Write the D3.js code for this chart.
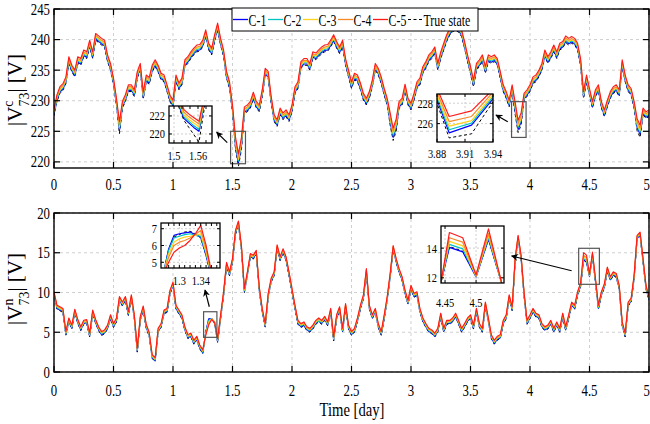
<!DOCTYPE html>
<html><head><meta charset="utf-8">
<script src="https://cdn.jsdelivr.net/npm/d3@7"></script>
<style>body{margin:0;background:#fff}svg{display:block}</style>
</head><body>
<svg id="chart" width="650" height="424"></svg>
<script>
// ---------------- DATA ----------------
const STEP = 0.025;                       // sample spacing [day]
const days = d3.range(201).map(i => +(i * STEP).toFixed(3));
const xTickVals = [0, 0.5, 1, 1.5, 2, 2.5, 3, 3.5, 4, 4.5, 5];
const xTickLabels = ["0","0.5","1","1.5","2","2.5","3","3.5","4","4.5","5"];
const topYTicks = [220, 225, 230, 235, 240, 245];
const botYTicks = [0, 5, 10, 15, 20];
const seriesNames = ["C-1", "C-2", "C-3", "C-4", "C-5", "True state"];

// |V^c_73| (top panel)
const topC5 = [228.6,231.0,232.3,232.8,233.9,237.2,235.8,235.0,237.2,236.9,238.3,238.0,239.9,238.0,241.0,240.6,240.2,239.9,237.5,236.1,233.7,230.4,226.6,229.9,231.0,232.6,232.6,231.8,234.8,236.1,231.4,234.2,233.8,235.8,236.7,235.8,234.5,234.2,232.6,230.9,230.1,234.2,232.9,233.7,236.7,237.2,238.0,238.6,239.1,239.2,239.9,241.6,239.4,238.6,240.8,242.7,240.2,238.3,234.8,233.1,229.3,224.1,221.3,224.0,229.0,229.3,229.9,231.4,229.9,229.3,231.8,235.3,234.8,230.7,227.7,226.9,228.8,228.0,228.5,227.7,229.3,232.3,233.1,236.4,236.9,236.9,236.1,238.0,237.8,238.3,238.8,239.1,239.2,239.9,240.8,239.7,238.8,239.9,236.9,235.0,233.1,234.5,234.2,232.9,231.2,230.4,231.5,233.4,236.1,235.3,233.9,232.0,230.4,228.0,225.5,227.0,229.9,230.4,232.7,230.4,229.6,231.2,233.1,233.7,235.6,236.4,237.5,238.0,238.8,236.1,238.0,239.4,240.8,241.8,242.4,242.6,242.3,241.6,239.7,237.5,235.6,233.4,236.1,236.7,237.5,235.6,237.5,237.2,237.5,236.9,234.8,232.6,231.5,230.1,232.6,229.8,226.8,228.0,231.2,231.8,232.6,233.9,234.2,235.0,236.1,238.3,237.2,238.0,239.1,238.0,239.4,239.7,240.6,240.2,240.5,240.2,239.4,236.9,231.5,234.2,232.0,229.9,231.8,232.6,229.9,228.5,230.1,231.5,232.3,232.6,231.8,236.7,234.2,232.6,232.0,229.9,227.1,226.0,228.8,228.2,228.5];
const topC4 = [228.3,230.7,232.0,232.5,233.6,236.9,235.5,234.7,236.9,236.6,238.0,237.7,239.6,237.7,240.7,240.3,239.9,239.6,237.2,235.8,233.4,230.1,226.1,229.6,230.7,232.3,232.3,231.5,234.5,235.8,231.1,233.9,233.5,235.5,236.4,235.5,234.2,233.9,232.3,230.6,229.8,233.9,232.6,233.4,236.4,236.9,237.7,238.3,238.8,238.9,239.6,241.3,239.1,238.3,240.5,242.4,239.9,238.0,234.5,232.8,229.0,223.6,220.8,223.5,228.7,229.0,229.6,231.1,229.6,229.0,231.5,235.0,234.5,230.4,227.4,226.6,228.5,227.7,228.2,227.4,229.0,232.0,232.8,236.1,236.6,236.6,235.8,237.7,237.5,238.0,238.5,238.8,238.9,239.6,240.5,239.4,238.5,239.6,236.6,234.7,232.8,234.2,233.9,232.6,230.9,230.1,231.2,233.1,235.8,235.0,233.6,231.7,230.1,227.5,225.0,226.5,229.6,230.1,232.4,230.1,229.3,230.9,232.8,233.4,235.3,236.1,237.2,237.7,238.5,235.8,237.7,239.1,240.5,241.5,242.1,242.3,242.0,241.3,239.4,237.2,235.3,233.1,235.8,236.4,237.2,235.3,237.2,236.9,237.2,236.6,234.5,232.3,231.2,229.8,232.3,229.3,226.3,227.5,230.9,231.5,232.3,233.6,233.9,234.7,235.8,238.0,236.9,237.7,238.8,237.7,239.1,239.4,240.3,239.9,240.2,239.9,239.1,236.6,231.2,233.9,231.7,229.6,231.5,232.3,229.6,228.2,229.8,231.2,232.0,232.3,231.5,236.4,233.9,232.3,231.7,229.6,226.6,225.5,228.5,227.9,228.2];
const topC3 = [228.1,230.5,231.8,232.3,233.4,236.7,235.3,234.5,236.7,236.4,237.8,237.5,239.4,237.5,240.5,240.1,239.7,239.4,237.0,235.6,233.2,229.9,225.7,229.4,230.5,232.1,232.1,231.3,234.3,235.6,230.9,233.7,233.3,235.3,236.2,235.3,234.0,233.7,232.1,230.4,229.6,233.7,232.4,233.2,236.2,236.7,237.5,238.1,238.6,238.7,239.4,241.1,238.9,238.1,240.3,242.2,239.7,237.8,234.3,232.6,228.8,223.2,220.4,223.1,228.5,228.8,229.4,230.9,229.4,228.8,231.3,234.8,234.3,230.2,227.2,226.4,228.3,227.5,228.0,227.2,228.8,231.8,232.6,235.9,236.4,236.4,235.6,237.5,237.3,237.8,238.3,238.6,238.7,239.4,240.3,239.2,238.3,239.4,236.4,234.5,232.6,234.0,233.7,232.4,230.7,229.9,231.0,232.9,235.6,234.8,233.4,231.5,229.9,227.1,224.6,226.1,229.4,229.9,232.2,229.9,229.1,230.7,232.6,233.2,235.1,235.9,237.0,237.5,238.3,235.6,237.5,238.9,240.3,241.3,241.9,242.1,241.8,241.1,239.2,237.0,235.1,232.9,235.6,236.2,237.0,235.1,237.0,236.7,237.0,236.4,234.3,232.1,231.0,229.6,232.1,228.9,225.9,227.1,230.7,231.3,232.1,233.4,233.7,234.5,235.6,237.8,236.7,237.5,238.6,237.5,238.9,239.2,240.1,239.7,240.0,239.7,238.9,236.4,231.0,233.7,231.5,229.4,231.3,232.1,229.4,228.0,229.6,231.0,231.8,232.1,231.3,236.2,233.7,232.1,231.5,229.4,226.2,225.1,228.3,227.7,228.0];
const topC2 = [227.9,230.3,231.6,232.1,233.2,236.5,235.1,234.3,236.5,236.2,237.6,237.3,239.2,237.3,240.3,239.9,239.5,239.2,236.8,235.4,233.0,229.7,225.4,229.2,230.3,231.9,231.9,231.1,234.1,235.4,230.7,233.5,233.1,235.1,236.0,235.1,233.8,233.5,231.9,230.2,229.4,233.5,232.2,233.0,236.0,236.5,237.3,237.9,238.4,238.5,239.2,240.9,238.7,237.9,240.1,242.0,239.5,237.6,234.1,232.4,228.6,222.9,220.1,222.8,228.3,228.6,229.2,230.7,229.2,228.6,231.1,234.6,234.1,230.0,227.0,226.2,228.1,227.3,227.8,227.0,228.6,231.6,232.4,235.7,236.2,236.2,235.4,237.3,237.1,237.6,238.1,238.4,238.5,239.2,240.1,239.0,238.1,239.2,236.2,234.3,232.4,233.8,233.5,232.2,230.5,229.7,230.8,232.7,235.4,234.6,233.2,231.3,229.7,226.8,224.3,225.8,229.2,229.7,232.0,229.7,228.9,230.5,232.4,233.0,234.9,235.7,236.8,237.3,238.1,235.4,237.3,238.7,240.1,241.1,241.7,241.9,241.6,240.9,239.0,236.8,234.9,232.7,235.4,236.0,236.8,234.9,236.8,236.5,236.8,236.2,234.1,231.9,230.8,229.4,231.9,228.6,225.6,226.8,230.5,231.1,231.9,233.2,233.5,234.3,235.4,237.6,236.5,237.3,238.4,237.3,238.7,239.0,239.9,239.5,239.8,239.5,238.7,236.2,230.8,233.5,231.3,229.2,231.1,231.9,229.2,227.8,229.4,230.8,231.6,231.9,231.1,236.0,233.5,231.9,231.3,229.2,225.9,224.8,228.1,227.5,227.8];
const topC1 = [227.7,230.1,231.4,231.9,233.0,236.3,234.9,234.1,236.3,236.0,237.4,237.1,239.0,237.1,240.1,239.7,239.3,239.0,236.6,235.2,232.8,229.5,225.1,229.0,230.1,231.7,231.7,230.9,233.9,235.2,230.5,233.3,232.9,234.9,235.8,234.9,233.6,233.3,231.7,230.0,229.2,233.3,232.0,232.8,235.8,236.3,237.1,237.7,238.2,238.3,239.0,240.7,238.5,237.7,239.9,241.8,239.3,237.4,233.9,232.2,228.4,222.6,219.8,222.5,228.1,228.4,229.0,230.5,229.0,228.4,230.9,234.4,233.9,229.8,226.8,226.0,227.9,227.1,227.6,226.8,228.4,231.4,232.2,235.5,236.0,236.0,235.2,237.1,236.9,237.4,237.9,238.2,238.3,239.0,239.9,238.8,237.9,239.0,236.0,234.1,232.2,233.6,233.3,232.0,230.3,229.5,230.6,232.5,235.2,234.4,233.0,231.1,229.5,226.5,224.0,225.5,229.0,229.5,231.8,229.5,228.7,230.3,232.2,232.8,234.7,235.5,236.6,237.1,237.9,235.2,237.1,238.5,239.9,240.9,241.5,241.7,241.4,240.7,238.8,236.6,234.7,232.5,235.2,235.8,236.6,234.7,236.6,236.3,236.6,236.0,233.9,231.7,230.6,229.2,231.7,228.3,225.3,226.5,230.3,230.9,231.7,233.0,233.3,234.1,235.2,237.4,236.3,237.1,238.2,237.1,238.5,238.8,239.7,239.3,239.6,239.3,238.5,236.0,230.6,233.3,231.1,229.0,230.9,231.7,229.0,227.6,229.2,230.6,231.4,231.7,230.9,235.8,233.3,231.7,231.1,229.0,225.6,224.5,227.9,227.3,227.6];
const topTrue = [227.5,229.9,231.2,231.7,232.8,236.1,234.7,233.9,236.1,235.8,237.2,236.9,238.8,236.9,239.9,239.5,239.1,238.8,236.4,235.0,232.6,229.3,224.6,228.8,229.9,231.5,231.5,230.7,233.7,235.0,230.3,233.1,232.7,234.7,235.6,234.7,233.4,233.1,231.5,229.8,229.0,233.1,231.8,232.6,235.6,236.1,236.9,237.5,238.0,238.1,238.8,240.5,238.3,237.5,239.7,241.6,239.1,237.2,233.7,232.0,228.2,222.1,219.3,222.0,227.9,228.2,228.8,230.3,228.8,228.2,230.7,234.2,233.7,229.6,226.6,225.8,227.7,226.9,227.4,226.6,228.2,231.2,232.0,235.3,235.8,235.8,235.0,236.9,236.7,237.2,237.7,238.0,238.1,238.8,239.7,238.6,237.7,238.8,235.8,233.9,232.0,233.4,233.1,231.8,230.1,229.3,230.4,232.3,235.0,234.2,232.8,230.9,229.3,226.0,223.5,225.0,228.8,229.3,231.6,229.3,228.5,230.1,232.0,232.6,234.5,235.3,236.4,236.9,237.7,235.0,236.9,238.3,239.7,240.7,241.3,241.5,241.2,240.5,238.6,236.4,234.5,232.3,235.0,235.6,236.4,234.5,236.4,236.1,236.4,235.8,233.7,231.5,230.4,229.0,231.5,227.8,224.8,226.0,230.1,230.7,231.5,232.8,233.1,233.9,235.0,237.2,236.1,236.9,238.0,236.9,238.3,238.6,239.5,239.1,239.4,239.1,238.3,235.8,230.4,233.1,230.9,228.8,230.7,231.5,228.8,227.4,229.0,230.4,231.2,231.5,230.7,235.6,233.1,231.5,230.9,228.8,225.1,224.0,227.7,227.1,227.4];

// |V^n_73| (bottom panel)
const botC5 = [10.1,8.4,8.2,8.0,5.1,6.8,5.9,7.9,6.6,5.7,6.5,6.6,4.9,7.8,6.6,5.7,5.1,5.3,5.9,7.2,6.1,6.8,9.5,8.8,9.5,7.6,9.7,7.2,3.0,7.0,8.3,6.0,5.0,2.2,1.8,5.5,6.1,7.8,8.0,10.3,11.3,8.4,7.8,7.2,5.7,4.7,4.9,4.0,4.5,3.4,2.8,4.6,5.9,6.6,6.2,4.2,7.2,10.1,13.8,12.6,14.3,17.8,19.0,15.9,10.5,12.6,14.9,14.7,15.3,10.7,8.0,6.1,9.9,11.8,12.6,16.0,14.5,15.5,14.5,12.6,10.5,8.4,6.5,6.1,6.3,5.7,5.5,5.9,6.5,6.8,6.5,7.0,6.3,8.0,4.4,7.2,8.2,5.5,8.6,5.9,5.1,5.5,6.8,8.4,9.7,13.0,8.4,7.2,8.0,6.1,5.1,7.2,9.5,12.4,15.9,14.3,13.0,12.0,10.3,9.0,10.9,9.9,10.1,8.0,6.8,6.1,5.5,5.3,4.9,5.5,7.4,5.5,6.5,6.5,6.8,7.4,6.5,5.5,6.1,6.8,7.2,5.9,8.0,6.1,5.5,8.8,6.8,4.7,4.0,4.5,4.7,6.5,7.2,9.7,8.2,14.3,17.2,14.7,10.1,6.5,7.2,8.0,7.4,7.2,6.1,5.7,5.9,6.5,5.5,6.3,5.5,7.4,5.7,7.2,8.8,8.4,10.1,11.2,15.0,14.7,12.3,15.1,11.8,8.4,10.1,11.1,13.2,12.0,12.6,12.4,10.9,6.3,4.9,8.8,9.3,12.2,17.2,17.6,14.3,10.9,9.5];
const botC4 = [10.0,8.3,8.1,7.9,5.0,6.7,5.8,7.8,6.5,5.6,6.4,6.5,4.8,7.7,6.5,5.6,5.0,5.2,5.8,7.1,6.0,6.7,9.4,8.7,9.4,7.5,9.6,7.1,2.9,6.9,8.2,5.9,4.9,2.1,1.7,5.4,6.0,7.7,7.9,10.2,11.2,8.3,7.7,7.1,5.6,4.6,4.8,3.9,4.4,3.3,2.7,4.7,6.1,6.7,6.3,4.1,7.1,10.0,13.7,12.5,14.2,17.7,18.9,15.8,10.4,12.5,14.8,14.6,15.2,10.6,7.9,6.0,9.8,11.7,12.5,15.9,14.4,15.4,14.4,12.5,10.4,8.3,6.4,6.0,6.2,5.6,5.4,5.8,6.4,6.7,6.4,6.9,6.2,7.9,4.3,7.1,8.1,5.4,8.5,5.8,5.0,5.4,6.7,8.3,9.6,12.9,8.3,7.1,7.9,6.0,5.0,7.1,9.4,12.3,15.8,14.2,12.9,11.9,10.2,8.9,10.8,9.8,10.0,7.9,6.7,6.0,5.4,5.2,4.8,5.4,7.3,5.4,6.4,6.4,6.7,7.3,6.4,5.4,6.0,6.7,7.1,5.8,7.9,6.0,5.4,8.7,6.7,4.6,3.9,4.4,4.6,6.4,7.1,9.6,8.1,14.2,17.1,14.6,10.0,6.4,7.1,7.9,7.3,7.1,6.0,5.6,5.8,6.4,5.4,6.2,5.4,7.3,5.6,7.1,8.7,8.3,10.0,11.1,14.7,14.4,12.2,14.9,11.7,8.3,10.0,11.0,13.1,11.9,12.5,12.3,10.8,6.2,4.8,8.7,9.2,12.1,17.1,17.5,14.2,10.8,9.4];
const botC3 = [9.9,8.2,8.0,7.8,4.9,6.6,5.7,7.7,6.4,5.5,6.3,6.4,4.7,7.6,6.4,5.5,4.9,5.1,5.7,7.0,5.9,6.6,9.3,8.6,9.3,7.4,9.5,7.0,2.8,6.8,8.1,5.8,4.8,2.0,1.6,5.3,5.9,7.6,7.8,10.1,11.1,8.2,7.6,7.0,5.5,4.5,4.7,3.8,4.3,3.2,2.6,4.8,6.3,6.7,6.3,4.0,7.0,9.9,13.6,12.4,14.1,17.6,18.8,15.7,10.3,12.4,14.7,14.5,15.1,10.5,7.8,5.9,9.7,11.6,12.4,15.8,14.3,15.3,14.3,12.4,10.3,8.2,6.3,5.9,6.1,5.5,5.3,5.7,6.3,6.6,6.3,6.8,6.1,7.8,4.2,7.0,8.0,5.3,8.4,5.7,4.9,5.3,6.6,8.2,9.5,12.8,8.2,7.0,7.8,5.9,4.9,7.0,9.3,12.2,15.7,14.1,12.8,11.8,10.1,8.8,10.7,9.7,9.9,7.8,6.6,5.9,5.3,5.1,4.7,5.3,7.2,5.3,6.3,6.3,6.6,7.2,6.3,5.3,5.9,6.6,7.0,5.7,7.8,5.9,5.3,8.6,6.6,4.5,3.8,4.3,4.5,6.3,7.0,9.5,8.0,14.1,17.0,14.5,9.9,6.3,7.0,7.8,7.2,7.0,5.9,5.5,5.7,6.3,5.3,6.1,5.3,7.2,5.5,7.0,8.6,8.2,9.9,11.0,14.5,14.2,12.1,14.8,11.6,8.2,9.9,10.9,13.0,11.8,12.4,12.2,10.7,6.1,4.7,8.6,9.1,12.0,17.0,17.4,14.1,10.7,9.3];
const botC2 = [9.8,8.1,7.9,7.7,4.8,6.5,5.6,7.6,6.3,5.4,6.2,6.3,4.6,7.5,6.3,5.4,4.8,5.0,5.6,6.9,5.8,6.5,9.2,8.5,9.2,7.3,9.4,6.9,2.7,6.7,8.0,5.7,4.7,1.9,1.5,5.2,5.8,7.5,7.7,10.0,11.0,8.1,7.5,6.9,5.4,4.4,4.6,3.7,4.2,3.1,2.5,4.9,6.5,6.7,6.2,3.9,6.9,9.8,13.5,12.3,14.0,17.5,18.7,15.6,10.2,12.3,14.6,14.4,15.0,10.4,7.7,5.8,9.6,11.5,12.3,15.7,14.2,15.2,14.2,12.3,10.2,8.1,6.2,5.8,6.0,5.4,5.2,5.6,6.2,6.5,6.2,6.7,6.0,7.7,4.1,6.9,7.9,5.2,8.3,5.6,4.8,5.2,6.5,8.1,9.4,12.7,8.1,6.9,7.7,5.8,4.8,6.9,9.2,12.1,15.6,14.0,12.7,11.7,10.0,8.7,10.6,9.6,9.8,7.7,6.5,5.8,5.2,5.0,4.6,5.2,7.1,5.2,6.2,6.2,6.5,7.1,6.2,5.2,5.8,6.5,6.9,5.6,7.7,5.8,5.2,8.5,6.5,4.4,3.7,4.2,4.4,6.2,6.9,9.4,7.9,14.0,16.9,14.4,9.8,6.2,6.9,7.7,7.1,6.9,5.8,5.4,5.6,6.2,5.2,6.0,5.2,7.1,5.4,6.9,8.5,8.1,9.8,10.9,14.3,14.0,12.1,14.7,11.5,8.1,9.8,10.8,12.9,11.7,12.3,12.1,10.6,6.0,4.6,8.5,9.0,11.9,16.9,17.3,14.0,10.6,9.2];
const botC1 = [9.7,8.0,7.8,7.6,4.7,6.4,5.5,7.5,6.2,5.3,6.1,6.2,4.5,7.4,6.2,5.3,4.7,4.9,5.5,6.8,5.7,6.4,9.1,8.4,9.1,7.2,9.3,6.8,2.6,6.6,7.9,5.6,4.6,1.8,1.4,5.1,5.7,7.4,7.6,9.9,10.9,8.0,7.4,6.8,5.3,4.3,4.5,3.6,4.1,3.0,2.4,5.0,6.7,6.7,6.1,3.8,6.8,9.7,13.4,12.2,13.9,17.4,18.6,15.5,10.1,12.2,14.5,14.3,14.9,10.3,7.6,5.7,9.5,11.4,12.2,15.6,14.1,15.1,14.1,12.2,10.1,8.0,6.1,5.7,5.9,5.3,5.1,5.5,6.1,6.4,6.1,6.6,5.9,7.6,4.0,6.8,7.8,5.1,8.2,5.5,4.7,5.1,6.4,8.0,9.3,12.6,8.0,6.8,7.6,5.7,4.7,6.8,9.1,12.0,15.5,13.9,12.6,11.6,9.9,8.6,10.5,9.5,9.7,7.6,6.4,5.7,5.1,4.9,4.5,5.1,7.0,5.1,6.1,6.1,6.4,7.0,6.1,5.1,5.7,6.4,6.8,5.5,7.6,5.7,5.1,8.4,6.4,4.3,3.6,4.1,4.3,6.1,6.8,9.3,7.8,13.9,16.8,14.3,9.7,6.1,6.8,7.6,7.0,6.8,5.7,5.3,5.5,6.1,5.1,5.9,5.1,7.0,5.3,6.8,8.4,8.0,9.7,10.8,14.1,13.8,12.0,14.6,11.4,8.0,9.7,10.7,12.8,11.6,12.2,12.0,10.5,5.9,4.5,8.4,8.9,11.8,16.8,17.2,13.9,10.5,9.1];
const botTrue = [9.6,7.9,7.7,7.5,4.6,6.3,5.4,7.4,6.1,5.2,6.0,6.1,4.4,7.3,6.1,5.2,4.6,4.8,5.4,6.7,5.6,6.3,9.0,8.3,9.0,7.1,9.2,6.7,2.5,6.5,7.8,5.5,4.5,1.7,1.3,5.0,5.6,7.3,7.5,9.8,10.8,7.9,7.3,6.7,5.2,4.2,4.4,3.5,4.0,2.9,2.3,5.0,6.6,6.8,6.1,3.7,6.7,9.6,13.3,12.1,13.8,17.3,18.5,15.4,10.0,12.1,14.4,14.2,14.8,10.2,7.5,5.6,9.4,11.3,12.1,15.5,14.0,15.0,14.0,12.1,10.0,7.9,6.0,5.6,5.8,5.2,5.0,5.4,6.0,6.3,6.0,6.5,5.8,7.5,3.9,6.7,7.7,5.0,8.1,5.4,4.6,5.0,6.3,7.9,9.2,12.5,7.9,6.7,7.5,5.6,4.6,6.7,9.0,11.9,15.4,13.8,12.5,11.5,9.8,8.5,10.4,9.4,9.6,7.5,6.3,5.6,5.0,4.8,4.4,5.0,6.9,5.0,6.0,6.0,6.3,6.9,6.0,5.0,5.6,6.3,6.7,5.4,7.5,5.6,5.0,8.3,6.3,4.2,3.5,4.0,4.2,6.0,6.7,9.2,7.7,13.8,16.7,14.2,9.6,6.0,6.7,7.5,6.9,6.7,5.6,5.2,5.4,6.0,5.0,5.8,5.0,6.9,5.2,6.7,8.3,7.9,9.6,10.7,14.1,13.8,12.1,14.6,11.3,7.9,9.6,10.6,12.7,11.5,12.1,11.9,10.4,5.8,4.4,8.3,8.8,11.7,16.7,17.1,13.8,10.4,9.0];

// Zoomed-in detail
const insTopA_t   = [1.5, 1.5125, 1.525, 1.5375, 1.55, 1.5625, 1.575, 1.5875];
const insTopA_C5  = [226.5, 224.0, 222.7, 222.2, 221.8, 221.4, 224.0, 227.0];
const insTopA_C4  = [226.3, 223.7, 222.4, 221.9, 221.5, 221.1, 223.8, 226.8];
const insTopA_C3  = [226.1, 223.5, 222.1, 221.6, 221.2, 220.8, 223.6, 226.6];
const insTopA_C2  = [225.9, 223.3, 221.9, 221.4, 220.9, 220.5, 223.4, 226.4];
const insTopA_C1  = [225.7, 223.1, 221.7, 221.2, 220.7, 220.3, 223.2, 226.2];
const insTopA_Tr  = [225.5, 222.9, 221.5, 220.7, 219.9, 219.1, 222.6, 226.0];

const insTopB_t   = [3.875, 3.893, 3.917, 3.945];
const insTopB_C5  = [230.5, 226.7, 227.25, 229.8];
const insTopB_C4  = [230.2, 226.2, 226.7, 229.6];
const insTopB_C3  = [230.0, 225.75, 226.3, 229.4];
const insTopB_C2  = [229.8, 225.4, 226.05, 229.2];
const insTopB_C1  = [229.6, 225.1, 225.85, 229.0];
const insTopB_Tr  = [229.3, 224.6, 225.0, 228.8];

const insBotA_t   = [1.27, 1.28, 1.29, 1.30, 1.31, 1.32, 1.33, 1.34, 1.35, 1.36];
const insBotA_C5  = [4.3, 5.0, 5.6, 5.85, 6.0, 6.3, 6.7, 7.2, 6.0, 4.4];
const insBotA_C4  = [4.3, 5.3, 6.0, 6.2, 6.3, 6.45, 6.65, 6.9, 5.8, 4.3];
const insBotA_C3  = [4.3, 5.5, 6.2, 6.4, 6.5, 6.55, 6.6, 6.7, 5.6, 4.2];
const insBotA_C2  = [4.3, 5.7, 6.45, 6.55, 6.65, 6.7, 6.6, 6.55, 5.5, 4.2];
const insBotA_C1  = [4.3, 5.8, 6.6, 6.7, 6.75, 6.8, 6.65, 6.5, 5.4, 4.1];
const insBotA_Tr  = [4.3, 5.75, 6.5, 6.65, 6.8, 6.85, 6.7, 6.45, 5.4, 4.1];

const insBotB_t   = [4.4435, 4.457, 4.4785, 4.5, 4.52, 4.5415];
const insBotB_C5  = [11.7, 15.05, 14.7, 12.2, 15.3, 11.6];
const insBotB_C4  = [11.7, 14.7, 14.4, 12.15, 15.0, 11.6];
const insBotB_C3  = [11.7, 14.45, 14.15, 12.1, 14.85, 11.6];
const insBotB_C2  = [11.7, 14.25, 13.95, 12.1, 14.7, 11.6];
const insBotB_C1  = [11.7, 14.05, 13.75, 12.05, 14.6, 11.6];
const insBotB_Tr  = [11.7, 14.1, 13.8, 12.1, 14.6, 11.6];

// ---------------- STYLE ----------------
const COLORS = ["#0000ff", "#00c4c4", "#ffd21a", "#f58a2a", "#ff1a1a", "#000000"];
const SERIF = "'Liberation Serif','Times New Roman',serif";
const L = 54, R = 649;

const svg = d3.select("#chart");
let clipId = 0;

function txt(g, x, y, s, size, sx, anchor) {
  return g.append("text")
    .attr("transform", `translate(${x},${y}) scale(${sx},1)`)
    .attr("text-anchor", anchor || "middle")
    .attr("font-family", SERIF).attr("font-size", size)
    .attr("fill", "#000").text(s);
}

function drawSeries(g, x, y, times, arrs, width) {
  // draw order: true state underneath, then C-1 ... C-5
  const order = [5, 0, 1, 2, 3, 4];
  const line = d3.line().x((d, i) => x(times[i])).y(d => y(d));
  order.forEach(k => {
    g.append("path").datum(arrs[k])
      .attr("d", line).attr("fill", "none")
      .attr("stroke", COLORS[k]).attr("stroke-width", k === 5 ? 1.0 : width)
      .attr("stroke-dasharray", k === 5 ? "3,2.5" : null)
      .attr("stroke-linejoin", "round");
  });
}

function panel(cfg) {
  const x = d3.scaleLinear().domain([0, 5]).range([L, R]);
  const y = d3.scaleLinear().domain(cfg.domain).range([cfg.bottom, cfg.top]);
  const g = svg.append("g");
  const id = "clip" + (clipId++);
  svg.append("clipPath").attr("id", id).append("rect")
    .attr("x", L).attr("y", cfg.top).attr("width", R - L).attr("height", cfg.bottom - cfg.top);
  // grid
  const grid = g.append("g").attr("stroke", "#cfcfcf").attr("stroke-width", 1).attr("stroke-dasharray", "3,3");
  xTickVals.forEach(v => grid.append("line").attr("x1", x(v)).attr("x2", x(v)).attr("y1", cfg.top).attr("y2", cfg.bottom));
  cfg.yTicks.forEach(v => grid.append("line").attr("x1", L).attr("x2", R).attr("y1", y(v)).attr("y2", y(v)));
  // series
  const sg = g.append("g").attr("clip-path", `url(#${id})`);
  drawSeries(sg, x, y, days, cfg.series, 1.1);
  // zoom rectangles
  cfg.zoomRects.forEach(r => g.append("rect").attr("x", x(r[0])).attr("y", y(r[3]))
    .attr("width", x(r[1]) - x(r[0])).attr("height", y(r[2]) - y(r[3]))
    .attr("fill", "none").attr("stroke", "#555").attr("stroke-width", 1.2));
  // frame
  g.append("rect").attr("x", L).attr("y", cfg.top).attr("width", R - L).attr("height", cfg.bottom - cfg.top)
    .attr("fill", "none").attr("stroke", "#000").attr("stroke-width", 1.4);
  // ticks (inward, all sides)
  const tk = g.append("g").attr("stroke", "#000").attr("stroke-width", 1.2);
  const TL = 6;
  xTickVals.forEach(v => {
    tk.append("line").attr("x1", x(v)).attr("x2", x(v)).attr("y1", cfg.bottom).attr("y2", cfg.bottom - TL);
    tk.append("line").attr("x1", x(v)).attr("x2", x(v)).attr("y1", cfg.top).attr("y2", cfg.top + TL);
  });
  cfg.yTicks.forEach(v => {
    tk.append("line").attr("x1", L).attr("x2", L + TL).attr("y1", y(v)).attr("y2", y(v));
    tk.append("line").attr("x1", R).attr("x2", R - TL).attr("y1", y(v)).attr("y2", y(v));
  });
  // tick labels (last one kept fully inside the page)
  xTickVals.forEach((v, i) => {
    const last = i === xTickVals.length - 1;
    txt(g, last ? 650 : x(v), cfg.xLabelY, xTickLabels[i], 16, 0.8, last ? "end" : "middle");
  });
  cfg.yTicks.forEach(v => txt(g, L - 4, y(v) + 5.5, String(v), 16, 0.8, "end"));
  // arrows
  cfg.arrows.forEach(a => {
    g.append("line").attr("x1", x(a[0])).attr("y1", y(a[1])).attr("x2", x(a[2])).attr("y2", y(a[3]))
      .attr("stroke", "#000").attr("stroke-width", 1.2).attr("marker-end", "url(#arrowHead)");
  });
  return { x, y };
}

// arrow marker
svg.append("defs").append("marker").attr("id", "arrowHead")
  .attr("viewBox", "0 0 10 10").attr("refX", 9).attr("refY", 5)
  .attr("markerWidth", 7).attr("markerHeight", 7).attr("orient", "auto")
  .attr("markerUnits", "userSpaceOnUse")
  .append("path").attr("d", "M0,0 L10,5 L0,10 L3,5 Z").attr("fill", "#000");

function inset(box, xDom, yDom, xTicks, xLabs, yTicks, times, arrs, xLabY) {
  const x = d3.scaleLinear().domain(xDom).range([box[0], box[2]]);
  const y = d3.scaleLinear().domain(yDom).range([box[3], box[1]]);
  const g = svg.append("g");
  const id = "clip" + (clipId++);
  svg.append("clipPath").attr("id", id).append("rect")
    .attr("x", box[0]).attr("y", box[1]).attr("width", box[2] - box[0]).attr("height", box[3] - box[1]);
  g.append("rect").attr("x", box[0]).attr("y", box[1]).attr("width", box[2] - box[0]).attr("height", box[3] - box[1])
    .attr("fill", "#fff");
  const grid = g.append("g").attr("stroke", "#cfcfcf").attr("stroke-dasharray", "2,2").attr("stroke-width", 1);
  xTicks.forEach((v, i) => { if (xLabs[i]) grid.append("line").attr("x1", x(v)).attr("x2", x(v)).attr("y1", box[1]).attr("y2", box[3]); });
  yTicks.forEach(v => grid.append("line").attr("x1", box[0]).attr("x2", box[2]).attr("y1", y(v)).attr("y2", y(v)));
  const sg = g.append("g").attr("clip-path", `url(#${id})`);
  drawSeries(sg, x, y, times, arrs, 1.2);
  g.append("rect").attr("x", box[0]).attr("y", box[1]).attr("width", box[2] - box[0]).attr("height", box[3] - box[1])
    .attr("fill", "none").attr("stroke", "#000").attr("stroke-width", 1.3);
  const tk = g.append("g").attr("stroke", "#000").attr("stroke-width", 1);
  xTicks.forEach(v => {
    tk.append("line").attr("x1", x(v)).attr("x2", x(v)).attr("y1", box[3]).attr("y2", box[3] - 3);
    tk.append("line").attr("x1", x(v)).attr("x2", x(v)).attr("y1", box[1]).attr("y2", box[1] + 3);
  });
  yTicks.forEach(v => {
    tk.append("line").attr("x1", box[0]).attr("x2", box[0] + 3).attr("y1", y(v)).attr("y2", y(v));
    tk.append("line").attr("x1", box[2]).attr("x2", box[2] - 3).attr("y1", y(v)).attr("y2", y(v));
  });
  xTicks.forEach((v, i) => { if (xLabs[i]) txt(g, x(v), xLabY, xLabs[i], 13, 0.8); });
  yTicks.forEach(v => txt(g, box[0] - 4, y(v) + 4.5, String(v), 13, 0.8, "end"));
}

// ---------------- PANELS ----------------
panel({
  top: 9, bottom: 168, domain: [219, 245], yTicks: topYTicks, xLabelY: 190,
  series: [topC1, topC2, topC3, topC4, topC5, topTrue],
  zoomRects: [[1.484, 1.609, 219.7, 225.0], [3.845, 3.967, 224.0, 229.85]],
  arrows: [[1.456, 223.14, 1.367, 224.84], [3.813, 226.57, 3.714, 227.67]]
});
panel({
  top: 213, bottom: 372, domain: [0, 20], yTicks: botYTicks, xLabelY: 396,
  series: [botC1, botC2, botC3, botC4, botC5, botTrue],
  zoomRects: [[1.257, 1.369, 4.36, 7.58], [4.409, 4.583, 11.03, 15.56]],
  arrows: [[1.305, 8.21, 1.269, 10.31], [4.35, 12.74, 3.846, 14.59]]
});

// ---------------- INSETS ----------------
inset([169, 106, 212, 143], [1.4875, 1.595], [219, 223.1],
  [1.5, 1.52, 1.54, 1.56, 1.58], ["1.5", "", "", "1.56", ""], [220, 222],
  insTopA_t, [insTopA_C1, insTopA_C2, insTopA_C3, insTopA_C4, insTopA_C5, insTopA_Tr], 160);
inset([437, 94, 493, 142], [3.88, 3.94], [224.2, 228.9],
  [3.88, 3.91, 3.94], ["3.88", "3.91", "3.94"], [226, 228],
  insTopB_t, [insTopB_C1, insTopB_C2, insTopB_C3, insTopB_C4, insTopB_C5, insTopB_Tr], 158);
inset([161, 223, 220, 268], [1.2657, 1.376], [4.66, 7.34],
  [1.28, 1.29, 1.3, 1.31, 1.32, 1.33, 1.34, 1.35, 1.36, 1.37], ["", "", "1.3", "", "", "", "1.34", "", "", ""], [5, 6, 7],
  insBotA_t, [insBotA_C1, insBotA_C2, insBotA_C3, insBotA_C4, insBotA_C5, insBotA_Tr], 285);
inset([441, 226, 504, 283], [4.4435, 4.545], [11.65, 15.49],
  [4.45, 4.5], ["4.45", "4.5"], [12, 14],
  insBotB_t, [insBotB_C1, insBotB_C2, insBotB_C3, insBotB_C4, insBotB_C5, insBotB_Tr], 307);

// ---------------- LEGEND ----------------
const lg = svg.append("g");
lg.append("rect").attr("x", 232).attr("y", 8).attr("width", 246).attr("height", 23)
  .attr("fill", "#fff").attr("stroke", "#000").attr("stroke-width", 1);
const legX = [233, 268, 303, 338, 373, 408];
seriesNames.forEach((n, k) => {
  lg.append("line").attr("x1", legX[k]).attr("x2", legX[k] + 15).attr("y1", 19.5).attr("y2", 19.5)
    .attr("stroke", COLORS[k]).attr("stroke-width", k === 5 ? 1.1 : 1.3)
    .attr("stroke-dasharray", k === 5 ? "3,2.5" : null);
  txt(lg, legX[k] + 15.5, 26, n, 17, 0.7, "start");
});

// ---------------- AXIS LABELS ----------------
txt(svg, 352, 416, "Time [day]", 19, 0.77);
function yLabel(cy, sup) {
  const t = svg.append("text").attr("transform", `translate(22,${cy}) rotate(-90)`)
    .attr("text-anchor", "middle").attr("font-family", SERIF).attr("font-size", 21);
  t.append("tspan").text("|V");
  t.append("tspan").attr("font-size", 14).attr("dy", -9).text(sup);
  t.append("tspan").attr("font-size", 14).attr("dx", sup === "c" ? -6.2 : -7).attr("dy", 16).text("73");
  t.append("tspan").attr("dy", -7).text("| [V]");
}
yLabel(90, "c");
yLabel(289, "n");
</script>
</body></html>
